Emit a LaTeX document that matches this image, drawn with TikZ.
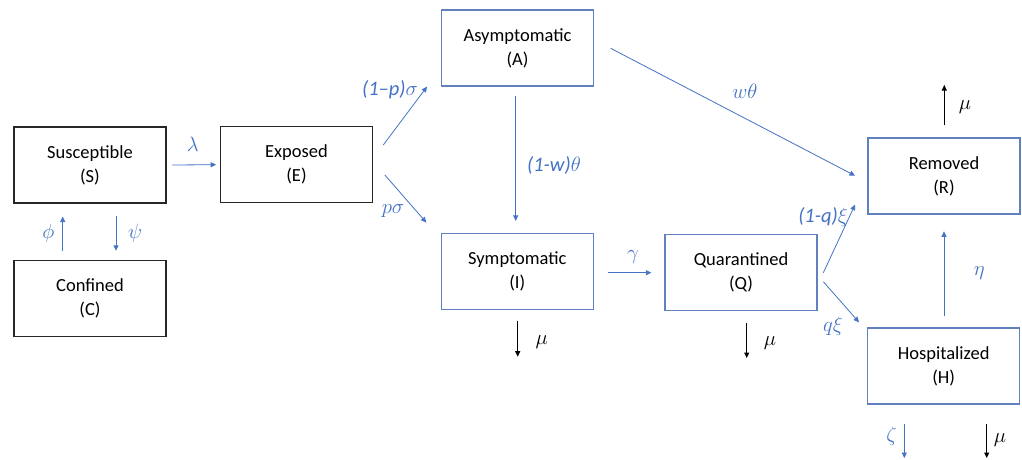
\documentclass[tikz,border=0pt]{standalone}
\usepackage{fontspec}
\setmainfont{Carlito}
\usetikzlibrary{arrows.meta}
\definecolor{lblue}{HTML}{4472C4}
\definecolor{bblue}{HTML}{6080BE}
\definecolor{bblack}{HTML}{262626}
\begin{document}
\begin{tikzpicture}[x=1pt,y=-1pt,
  box/.style={draw=bblack, line width=1.1pt, minimum width=152pt, minimum height=76pt,
    align=center, font=\fontsize{18.5}{24}\selectfont, inner sep=0pt},
  bbox/.style={box, draw=bblue, line width=1.3pt},
  flow/.style={draw=lblue, line width=0.8pt, -{Triangle[width=5pt,length=5.5pt]}},
  outarrow/.style={draw=black, line width=1pt, -{Triangle[width=5pt,length=5.5pt]}},
  lab/.style={text=lblue, font=\fontsize{20.5}{22}\selectfont, inner sep=0pt},
  mlab/.style={text=black, font=\fontsize{20.5}{22}\selectfont, inner sep=0pt}
]
\useasboundingbox[fill=white] (0,0) rectangle (1022,460);

% boxes
\node[box]  (S) at (90,165)      {Susceptible\\(S)};
\node[box]  (E) at (296.5,164.7) {Exposed\\(E)};
\node[box]  (C) at (90,298.5)    {Confined\\(C)};
\node[bbox] (A) at (517.5,48)    {Asymptomatic\\(A)};
\node[bbox] (I) at (517.3,271.2) {Symptomatic\\(I)};
\node[bbox] (Q) at (741,272.5)   {Quarantined\\(Q)};
\node[bbox] (R) at (944,176)     {Removed\\(R)};
\node[bbox] (H) at (943.7,366)   {Hospitalized\\(H)};

% flows between compartments
\draw[flow] ([xshift=5.7pt]S.east) -- ([xshift=-3.8pt]E.west);
\draw[flow] ([xshift=-27.3pt,yshift=8.5pt]C.north) -- ([xshift=-27.3pt,yshift=-13pt]S.south);
\draw[flow] ([xshift=26pt,yshift=-12.7pt]S.south) -- ([xshift=26pt,yshift=9.2pt]C.north);
\draw[flow] ([xshift=10.2pt,yshift=19.7pt]E.east) -- ([xshift=-13.8pt]A.south west);
\draw[flow] ([xshift=11.8pt,yshift=-10.3pt]E.east) -- ([xshift=-14.3pt,yshift=10pt]I.north west);
\draw[flow] ([xshift=-1.8pt,yshift=-9pt]A.south) -- ([xshift=-1.6pt,yshift=11.6pt]I.north);
\draw[flow] ([xshift=16.5pt,yshift=-0.3pt]A.east) -- ([xshift=-12.3pt,yshift=0.3pt]R.west);
\draw[flow] ([xshift=14.3pt,yshift=-1.5pt]I.east) -- ([xshift=-13pt,yshift=-0.2pt]Q.west);
\draw[flow] ([xshift=5.7pt,yshift=-0.2pt]Q.east) -- ([xshift=-12.3pt,yshift=10pt]R.south west);
\draw[flow] ([xshift=5.7pt,yshift=-9.2pt]Q.east) -- ([xshift=-8pt,yshift=5pt]H.north west);
\draw[flow] ([xshift=0.3pt,yshift=11.3pt]H.north) -- ([yshift=-16.7pt]R.south);

% outflows
\coordinate (muIend) at (517.7,356.7);
\coordinate (muQend) at (746.7,358);
\coordinate (muRend) at (944.3,85);
\coordinate (zetaend) at (904.3,458);
\coordinate (muHend) at (986.7,458);
\draw[outarrow] ([xshift=0.4pt,yshift=-10.8pt]I.south) -- (muIend);
\draw[outarrow] ([xshift=5.7pt,yshift=-12pt]Q.south) -- (muQend);
\draw[outarrow] ([xshift=0.3pt,yshift=12pt]R.north) -- (muRend);
\draw[flow] ([xshift=-39.4pt,yshift=-19pt]H.south) -- (zetaend);
\draw[outarrow] ([xshift=43pt,yshift=-19pt]H.south) -- (muHend);

% labels
\node[lab] (llambda) at (192.7,144) {$\lambda$};
\node[lab] (lphi) at (48.3,233.3) {$\phi$};
\node[lab] (lpsi) at (135,233.3) {$\psi$};
\node[lab] (lonemp) at (390,89.3) {\textit{(1–p)}$\sigma$};
\node[lab] (lp) at (393,210.7) {$p\sigma$};
\node[lab] (lonemw) at (554,165) {\textit{(1-w)}$\theta$};
\node[lab] (lw) at (745,91.7) {$w\theta$};
\node[lab] (lgamma) at (633,256.7) {$\gamma$};
\node[lab] (lonemq) at (823,216.7) {\textit{(1-q)}$\xi$};
\node[lab] (lq) at (833,326.7) {$q\xi$};
\node[lab] (leta) at (979.3,272.7) {$\eta$};
\node[lab] (lzeta) at (891.7,436.7) {$\zeta$};
\node[mlab] (lmuI) at (541.7,341.7) {$\mu$};
\node[mlab] (lmuQ) at (770,343) {$\mu$};
\node[mlab] (lmuR) at (965,106.7) {$\mu$};
\node[mlab] (lmuH) at (1000,440) {$\mu$};
\end{tikzpicture}
\end{document}
